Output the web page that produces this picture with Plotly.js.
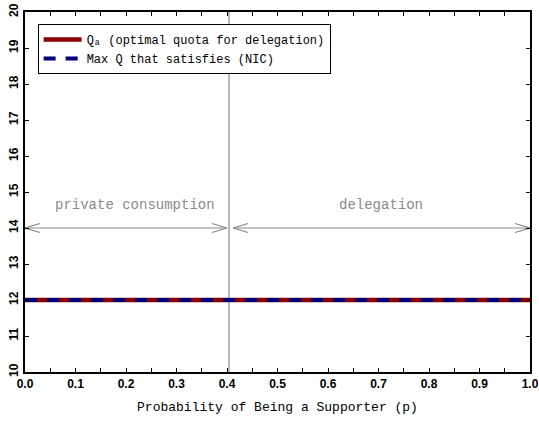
<!DOCTYPE html>
<html>
<head>
<meta charset="utf-8">
<script src="https://cdn.plot.ly/plotly-3.0.1.min.js"></script>
<style>html,body{margin:0;padding:0;background:#fff}#chart{width:539px;height:421px}</style>
</head>
<body>
<div id="chart"></div>
<script>
// ---- data ----
const pValues = [0.0, 0.1, 0.2, 0.3, 0.4, 0.5, 0.6, 0.7, 0.8, 0.9, 1.0];
const qaValues = [12, 12, 12, 12, 12, 12, 12, 12, 12, 12, 12];
const nicValues = [12, 12, 12, 12, 12, 12, 12, 12, 12, 12, 12];
const seriesNames = ['Q\u2090 (optimal quota for delegation)', 'Max Q that satisfies (NIC)'];
const pCutoff = 0.404;
const regionLabels = ['private consumption', 'delegation'];
const regionLabelX = [0.218, 0.705];
const regionLabelY = 14.64;
const regionArrowStart = [0.0, 0.412];
const regionArrowEnd = [0.400, 1.0];
const arrowY = 14;
const xTickVals = [0, 0.1, 0.2, 0.3, 0.4, 0.5, 0.6, 0.7, 0.8, 0.9, 1.0];
const xTickText = ['0.0', '0.1', '0.2', '0.3', '0.4', '0.5', '0.6', '0.7', '0.8', '0.9', '1.0'];
const yTickVals = [10, 11, 12, 13, 14, 15, 16, 17, 18, 19, 20];

// ---- layout geometry ----
const W = 539, H = 421;
const M = {l: 24.5, r: 8.5, t: 12, b: 49};
const xRange = [0, 1], yRange = [10, 20];
const pxPerX = (W - M.l - M.r) / (xRange[1] - xRange[0]);
const pxPerY = (H - M.t - M.b) / (yRange[1] - yRange[0]);
const headLenX = 15 / pxPerX;
const headHalfY = 4.5 / pxPerY;

const gray = '#8a8a8a';
const traces = [];

// vertical cutoff line
traces.push({
  x: [pCutoff, pCutoff], y: yRange, mode: 'lines',
  line: {color: gray, width: 1.2}, showlegend: false, hoverinfo: 'skip'
});

// double-headed arrows
for (let i = 0; i < regionArrowStart.length; i++) {
  const a = regionArrowStart[i], b = regionArrowEnd[i];
  traces.push({
    x: [a, b, null,
        a + headLenX, a, a + headLenX, null,
        b - headLenX, b, b - headLenX],
    y: [arrowY, arrowY, null,
        arrowY + headHalfY, arrowY, arrowY - headHalfY, null,
        arrowY + headHalfY, arrowY, arrowY - headHalfY],
    mode: 'lines', line: {color: gray, width: 1.2},
    showlegend: false, hoverinfo: 'skip', cliponaxis: false
  });
}

traces.push({
  x: pValues, y: qaValues, mode: 'lines', name: seriesNames[0],
  line: {color: '#8b0000', width: 4.5}
});
traces.push({
  x: pValues, y: nicValues, mode: 'lines', name: seriesNames[1],
  line: {color: '#00007f', width: 4, dash: '12px,10px'}
});

const annotations = regionLabels.map((t, i) => ({
  x: regionLabelX[i], y: regionLabelY, xref: 'x', yref: 'y',
  text: t, showarrow: false,
  font: {family: 'Liberation Mono, monospace', size: 14, color: gray}
}));

const tickFont = {family: 'Liberation Sans, Arial, sans-serif', size: 12, color: '#000', weight: 'bold'};

const layout = {
  width: W, height: H,
  margin: M,
  paper_bgcolor: '#fff', plot_bgcolor: '#fff',
  showlegend: true,
  legend: {
    x: 0.025, y: 0.967, xanchor: 'left', yanchor: 'top',
    bgcolor: '#fff', bordercolor: '#000', borderwidth: 1,
    itemwidth: 38,
    font: {family: 'Liberation Mono, DejaVu Sans Mono, monospace', size: 12, color: '#000'},
    tracegroupgap: 0
  },
  xaxis: {
    range: xRange, tickvals: xTickVals, ticktext: xTickText,
    ticks: 'inside', ticklen: 4, tickwidth: 1, tickcolor: '#000',
    minor: {dtick: 0.05, ticks: 'inside', ticklen: 4, tickcolor: '#000', showgrid: false},
    showline: true, linewidth: 2, linecolor: '#000', mirror: 'ticks',
    showgrid: false, zeroline: false, tickfont: tickFont,
    title: {text: 'Probability of Being a Supporter (p)', standoff: 11,
            font: {family: 'Liberation Mono, monospace', size: 13, color: '#000'}}
  },
  yaxis: {
    range: yRange, tickvals: yTickVals, tickangle: -90,
    ticks: 'inside', ticklen: 4, tickwidth: 1, tickcolor: '#000',
    showline: true, linewidth: 2, linecolor: '#000', mirror: 'ticks',
    showgrid: false, zeroline: false, tickfont: tickFont
  },
  annotations: annotations
};

Plotly.newPlot('chart', traces, layout, {displayModeBar: false, staticPlot: true});
</script>
</body>
</html>
